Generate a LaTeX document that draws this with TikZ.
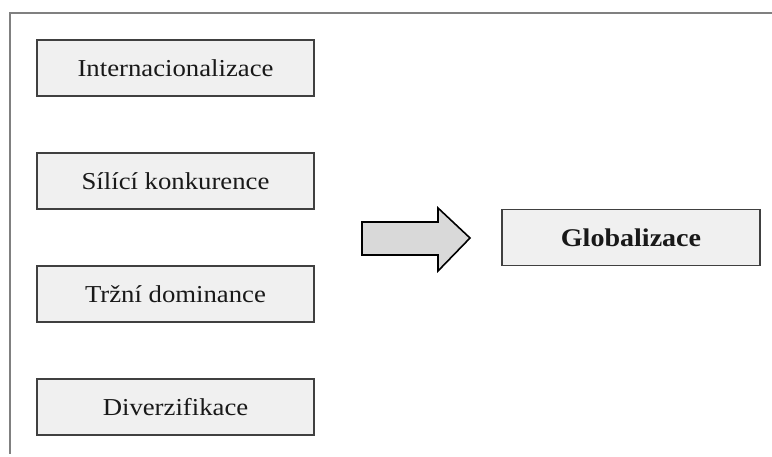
\documentclass[tikz,border=0pt]{standalone}
\usepackage{fontspec}
\setmainfont[FakeStretch=1.1]{Liberation Serif}
\begin{document}
\begin{tikzpicture}[x=1pt,y=-1pt,
  factor/.style={draw=black!75, line width=1.3pt, fill=black!6,
    minimum width=277pt, minimum height=56pt, inner sep=0pt,
    font=\fontsize{24.3}{28}\selectfont, text=black!90},
  result/.style={factor, minimum width=258pt, font=\fontsize{25.5}{28}\selectfont\bfseries}]
  \useasboundingbox (0,0) rectangle (772,457);
  % frame lines on top and left
  \draw[black!50, line width=1.2pt] (9,13) -- (772,13);
  \draw[black!50, line width=1.2pt] (10,13) -- (10,454);
  % driving factors
  \node[factor] (int) at (175.5,68) {Internacionalizace};
  \node[factor] (kon) at (175.5,181) {Sílící konkurence};
  \node[factor] (trz) at (175.5,294) {Tržní dominance};
  \node[factor] (div) at (175.5,407) {Diverzifikace};
  % outcome
  \node[result] (glob) at (631,237.5) {Globalizace};
  % block arrow pointing to the outcome
  \draw[black, line width=1.6pt, fill=black!15, line join=miter]
    (362,222) -- (438,222) -- (438,208) -- (470,238) -- (438,271)
    -- (438,255) -- (362,255) -- cycle;
\end{tikzpicture}
\end{document}
